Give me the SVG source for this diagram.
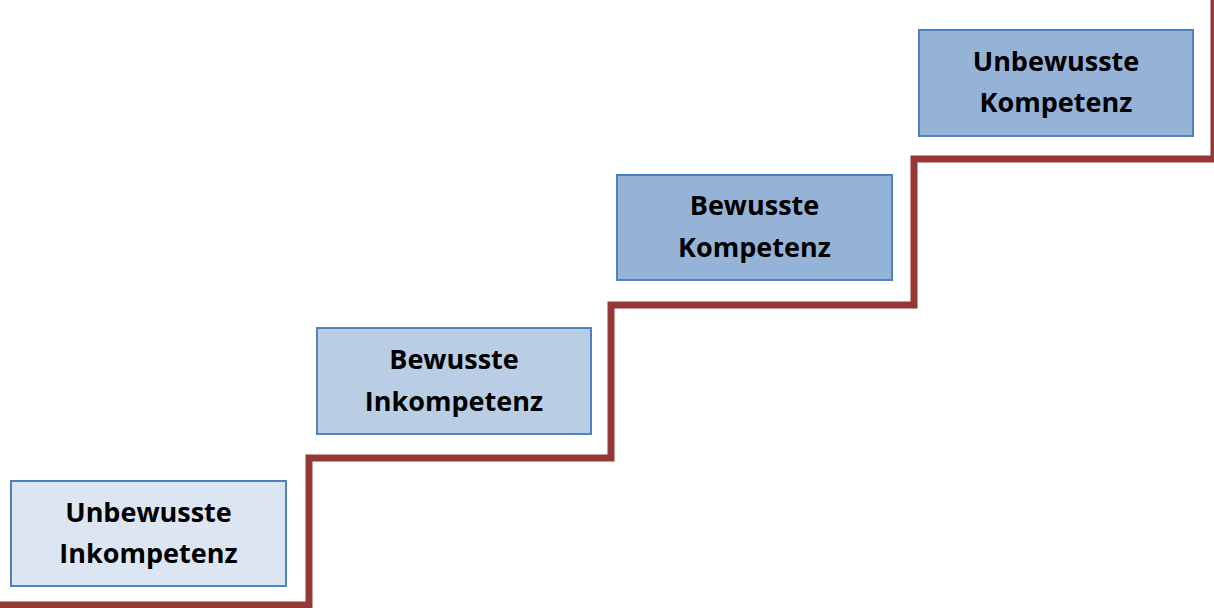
<svg xmlns="http://www.w3.org/2000/svg" width="1214" height="608" viewBox="0 0 1214 608">
<style>
.box{stroke:#4f81bd;stroke-width:2}
.lbl{font-family:"Open Sans","Liberation Sans",sans-serif;font-weight:bold;font-size:27px;fill:#000;text-anchor:middle}
.stair{fill:none;stroke:#953735;stroke-width:7}
</style>
<rect width="1214" height="608" fill="#ffffff"/>
<g id="connectors">
<path class="stair" d="M0,605 H309 V458 H611 V305 H914 V159 H1214 V0"/>
</g>
<g id="node1">
<rect class="box" x="11" y="481" width="275" height="105" fill="#dce6f2"/>
<text class="lbl" x="148.5" y="522">Unbewusste</text>
<text class="lbl" x="148.5" y="563">Inkompetenz</text>
</g>
<g id="node2">
<rect class="box" x="317" y="328" width="274" height="106" fill="#b9cde5"/>
<text class="lbl" x="454" y="369">Bewusste</text>
<text class="lbl" x="454" y="411">Inkompetenz</text>
</g>
<g id="node3">
<rect class="box" x="617" y="175" width="275" height="105" fill="#95b3d7"/>
<text class="lbl" x="754.5" y="215">Bewusste</text>
<text class="lbl" x="754.5" y="257">Kompetenz</text>
</g>
<g id="node4">
<rect class="box" x="919" y="30" width="274" height="106" fill="#95b3d7"/>
<text class="lbl" x="1056" y="71">Unbewusste</text>
<text class="lbl" x="1056" y="112">Kompetenz</text>
</g>
</svg>
